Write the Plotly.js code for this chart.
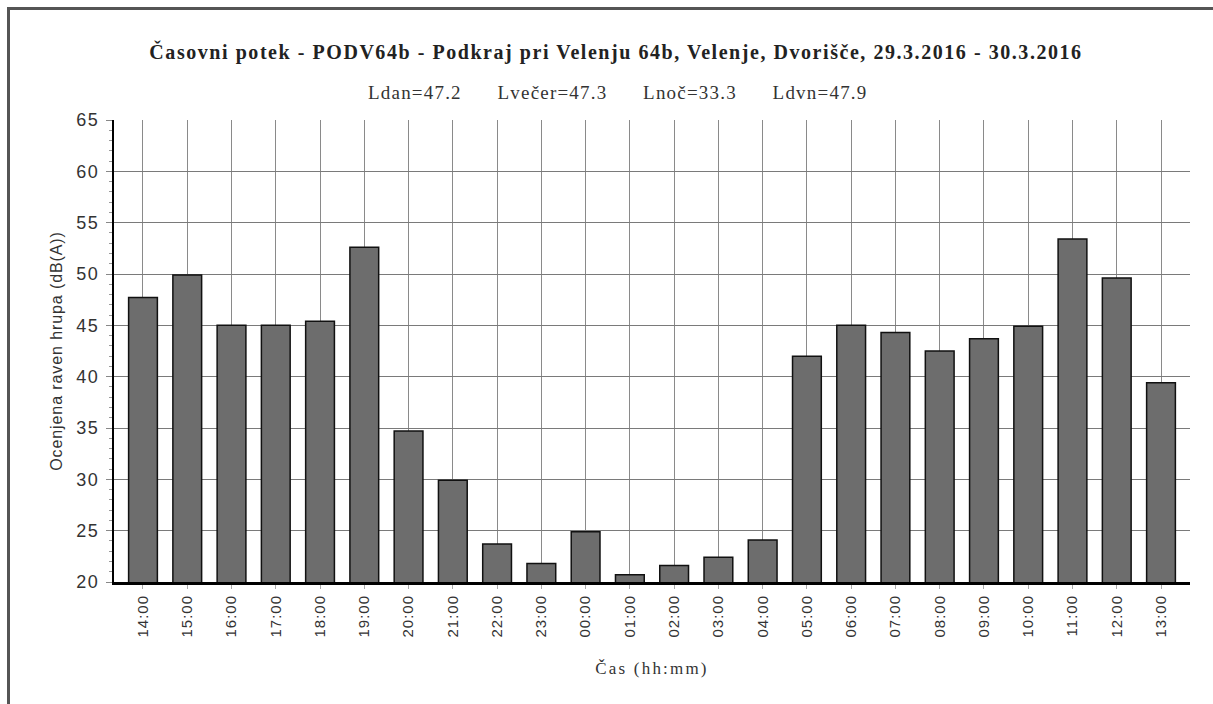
<!DOCTYPE html>
<html>
<head>
<meta charset="utf-8">
<script src="https://cdn.plot.ly/plotly-3.0.1.min.js"></script>
<style>
  html, body { margin: 0; padding: 0; background: #fff; }
  #wrap { position: relative; width: 1213px; height: 704px; overflow: hidden; }
  #chart { width: 1213px; height: 704px; }
  #frame { position: absolute; left: 7px; top: 7px; width: 1300px; height: 800px;
           border-top: 3px solid #555; border-left: 3px solid #555; pointer-events: none; }
  .gtitle { letter-spacing: 1.55px; }
  .annotation-text { letter-spacing: 1.2px; }
  .xtick text { letter-spacing: 1px; }
  .ytick text { letter-spacing: 1.5px; }
  .ytitle { letter-spacing: 0.9px; }
  .xtitle { letter-spacing: 2.2px; }
</style>
</head>
<body>
<div id="wrap">
  <div id="chart"></div>
  <div id="frame"></div>
</div>
<script>
const categories = ["14:00","15:00","16:00","17:00","18:00","19:00","20:00","21:00","22:00","23:00","00:00","01:00",
                    "02:00","03:00","04:00","05:00","06:00","07:00","08:00","09:00","10:00","11:00","12:00","13:00"];
const levels = [47.7, 49.9, 45.0, 45.0, 45.4, 52.6, 34.7, 29.9, 23.7, 21.8, 24.9, 20.7,
                21.6, 22.4, 24.1, 42.0, 45.0, 44.3, 42.5, 43.7, 44.9, 53.4, 49.6, 39.4];
const yTickVals = [20, 25, 30, 35, 40, 45, 50, 55, 60, 65];
const titleText = "Časovni potek - PODV64b - Podkraj pri Velenju 64b, Velenje, Dvorišče, 29.3.2016 - 30.3.2016";
const summaryLabels = ["Ldan=47.2", "Lvečer=47.3", "Lnoč=33.3", "Ldvn=47.9"];
const xTitle = "Čas (hh:mm)";
const yTitle = "Ocenjena raven hrupa (dB(A))";

const gap = "&nbsp;".repeat(6);
const subtitleText = summaryLabels.join(gap);

const trace = {
  type: "bar",
  x: categories,
  y: levels,
  width: 0.65,
  marker: { color: "#6d6d6d", line: { color: "#111", width: 1.5 } },
  hoverinfo: "x+y"
};

const layout = {
  width: 1213, height: 704,
  margin: { l: 114, r: 23, t: 120, b: 122 },
  paper_bgcolor: "#fff", plot_bgcolor: "#fff",
  showlegend: false,
  title: {
    text: "<b>" + titleText + "</b>",
    font: { family: "Liberation Serif, Times New Roman, serif", size: 20, color: "#222" },
    x: 616/1213, xanchor: "center", y: 1 - 52/704, yanchor: "middle", yref: "container"
  },
  annotations: [{
    text: subtitleText, xref: "paper", yref: "paper", x: (617-114)/1076, y: (582-92)/462,
    xanchor: "center", yanchor: "middle", showarrow: false,
    font: { family: "Liberation Serif, Times New Roman, serif", size: 19, color: "#333" }
  }],
  shapes: [{
    type: "line", xref: "paper", yref: "paper", x0: 0.002, x1: 1, y0: 1, y1: 1,
    line: { color: "#fff", width: 2 }, layer: "between"
  }],
  xaxis: {
    type: "category",
    range: [-0.655, 23.655],
    tickangle: -90,
    tickfont: { family: "Liberation Sans, Arial, sans-serif", size: 15, color: "#333" },
    showgrid: true, gridcolor: "#8a8a8a", gridwidth: 1,
    showline: true, linecolor: "#000", linewidth: 3,
    ticks: "outside", ticklen: 4, tickcolor: "#aaa", tickwidth: 1,
    title: { text: xTitle, standoff: 26,
             font: { family: "Liberation Serif, Times New Roman, serif", size: 17, color: "#333" } },
    fixedrange: true
  },
  yaxis: {
    range: [20, 65],
    tickvals: yTickVals,
    tickfont: { family: "Liberation Sans, Arial, sans-serif", size: 18, color: "#333" },
    ticklabelstandoff: 3,
    showgrid: true, gridcolor: "#7a7a7a", gridwidth: 1,
    showline: true, linecolor: "#000", linewidth: 2,
    ticks: "outside", ticklen: 6, tickcolor: "#888", tickwidth: 1,
    minor: { dtick: 1, ticks: "outside", ticklen: 3, tickcolor: "#999", showgrid: false },
    zeroline: false,
    title: { text: yTitle, standoff: 10,
             font: { family: "Liberation Sans, Arial, sans-serif", size: 16, color: "#333" } },
    fixedrange: true
  }
};

Plotly.newPlot("chart", [trace], layout, { displayModeBar: false, staticPlot: true });
</script>
</body>
</html>
